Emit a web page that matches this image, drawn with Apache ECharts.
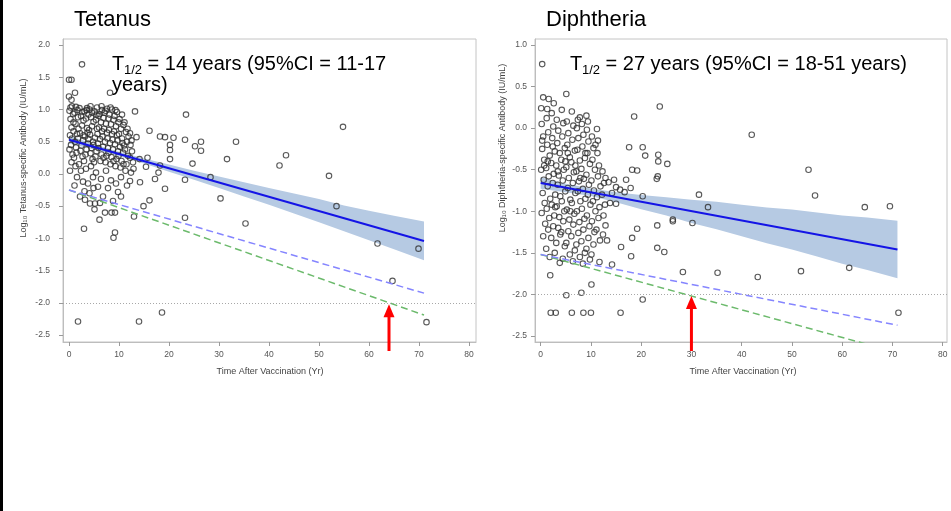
<!DOCTYPE html>
<html>
<head>
<meta charset="utf-8">
<script src="https://cdn.jsdelivr.net/npm/echarts@6/dist/echarts.min.js"></script>
<style>html,body{margin:0;padding:0;background:#fff}#c{width:951px;height:511px}</style>
</head>
<body>
<div id="c"></div>
<script>
// ---------- DATA ----------
const xTicks = [0, 10, 20, 30, 40, 50, 60, 70, 80];
const tetYTicks = [-2.5, -2.0, -1.5, -1.0, -0.5, 0.0, 0.5, 1.0, 1.5, 2.0];
const dipYTicks = [-2.5, -2.0, -1.5, -1.0, -0.5, 0.0, 0.5, 1.0];

const tetanusPoints = [
 [2.6,1.70],[0.0,1.46],[0.5,1.46],[1.2,1.26],[0.0,1.20],[0.5,1.15],[8.2,1.26],[13.2,0.97],[23.4,0.92],
 [16.1,0.67],[12.2,0.63],[13.5,0.57],[18.2,0.58],[19.2,0.57],[20.9,0.56],[23.2,0.53],[20.2,0.45],[20.2,0.37],
 [20.2,0.23],[15.7,0.25],[14.1,0.23],[18.2,0.13],[15.4,0.11],[17.9,0.02],[17.2,-0.08],[19.2,-0.23],[23.2,-0.09],
 [14.2,-0.13],[12.2,-0.11],[16.1,-0.41],[14.9,-0.50],[13.0,-0.66],[10.4,-0.35],[9.2,-0.60],[7.2,-0.60],[8.5,-0.60],
 [6.1,-0.71],[4.2,-0.46],[5.2,-0.46],[4.9,-0.22],[3.1,-0.27],[2.2,-0.35],[3.0,-0.85],[9.2,-0.91],[8.9,-0.99],
 [23.2,-0.68],[12.4,0.02],
 [54.8,0.73],[25.2,0.43],[26.4,0.50],[26.4,0.36],[33.4,0.50],[24.7,0.16],[31.6,0.23],[43.4,0.29],[42.1,0.13],
 [52.0,-0.03],[28.3,-0.05],[30.3,-0.38],[53.5,-0.50],[35.3,-0.77],[61.7,-1.08],[69.9,-1.16],[64.7,-1.66],
 [71.5,-2.30],[1.8,-2.29],[14.0,-2.29],[18.6,-2.15],
 [0.1,0.98],[0.3,0.85],[0.5,0.72],[0.2,0.60],[0.6,0.55],[0.4,0.45],[0.8,0.93],[0.9,0.66],[0.1,0.38],[0.7,0.30],[0.3,1.03],[0.9,0.80],[0.5,0.18],[0.2,0.05],
 [1.1,0.95],[1.3,0.78],[1.6,0.62],[1.2,0.50],[1.8,0.88],[1.4,0.41],[1.9,0.70],[1.5,0.33],[1.7,0.99],[1.0,0.25],[1.3,0.12],[1.8,0.55],[1.6,-0.05],[1.1,-0.18],
 [2.1,1.02],[2.4,0.90],[2.6,0.75],[2.2,0.63],[2.8,0.52],[2.5,0.44],[2.9,0.83],[2.3,0.36],[2.7,0.27],[2.0,0.15],[2.6,0.96],[2.9,0.60],[2.4,0.05],[2.8,-0.12],
 [3.1,0.97],[3.4,0.86],[3.6,0.71],[3.2,0.58],[3.8,0.47],[3.5,0.38],[3.9,0.92],[3.3,0.30],[3.7,0.64],[3.0,0.20],[3.6,1.02],[3.9,0.54],[3.4,0.08],[3.8,-0.15],[3.2,-0.40],
 [4.1,1.00],[4.4,0.88],[4.6,0.74],[4.2,0.61],[4.8,0.50],[4.5,0.40],[4.9,0.81],[4.3,0.32],[4.7,0.23],[4.0,0.68],[4.6,0.95],[4.9,0.45],[4.4,0.12],[4.8,-0.05],[4.1,-0.30],
 [5.1,0.97],[5.4,0.84],[5.6,0.70],[5.2,0.56],[5.8,0.47],[5.5,0.35],[5.9,0.90],[5.3,0.27],[5.7,0.62],[5.0,0.18],[5.6,1.03],[5.9,0.40],[5.4,0.02],[5.8,-0.20],[5.1,-0.55],
 [6.1,0.93],[6.4,0.80],[6.6,0.66],[6.2,0.54],[6.8,0.42],[6.5,0.30],[6.9,0.87],[6.3,0.20],[6.7,0.58],[6.0,0.72],[6.6,0.99],[6.9,0.25],[6.4,-0.08],[6.8,-0.35],[6.2,-0.45],
 [7.1,0.95],[7.4,0.78],[7.6,0.64],[7.2,0.50],[7.8,0.40],[7.5,0.28],[7.9,0.86],[7.3,0.18],[7.7,0.55],[7.0,0.70],[7.6,1.01],[7.9,0.33],[7.4,0.05],[7.8,-0.22],
 [8.1,0.92],[8.4,0.77],[8.6,0.62],[8.2,0.48],[8.8,0.38],[8.5,0.26],[8.9,0.84],[8.3,0.15],[8.7,0.53],[8.0,0.68],[8.6,1.00],[8.9,0.20],[8.4,-0.10],[8.8,-0.42],
 [9.1,0.90],[9.4,0.74],[9.6,0.60],[9.2,0.46],[9.8,0.35],[9.5,0.23],[9.9,0.80],[9.3,0.12],[9.7,0.52],[9.0,0.66],[9.6,0.96],[9.9,0.28],[9.4,-0.15],[9.8,-0.28],
 [10.1,0.85],[10.4,0.70],[10.6,0.55],[10.2,0.42],[10.8,0.33],[10.5,0.20],[10.9,0.76],[10.3,0.10],[10.7,0.48],[10.0,0.62],[10.6,0.92],[10.9,0.15],[10.4,-0.05],
 [11.1,0.80],[11.4,0.65],[11.6,0.50],[11.2,0.38],[11.8,0.28],[11.5,0.15],[11.9,0.58],[11.3,0.05],[11.7,0.70],[11.0,0.44],[11.6,-0.18],
 [12.3,0.45],[12.6,0.35],[12.2,0.25],[12.8,0.18],[12.5,0.52],[12.9,0.08],
 [0.6,1.05],[1.4,1.04],[3.5,0.99],[4.3,1.05],[5.5,0.92],[6.5,1.05],[7.3,0.98],[8.3,1.03],[9.3,0.99]
];

const diphtheriaPoints = [
 [0.3,0.77],[5.1,0.41],[0.5,0.37],[1.6,0.35],[2.6,0.30],[0.1,0.24],[1.3,0.23],[18.6,0.14],[9.1,0.15],[7.8,0.13],
 [11.2,-0.01],[17.6,-0.23],[18.2,-0.50],[19.2,-0.51],[17.0,-0.62],[17.9,-0.72],[15.0,-0.71],[15.8,-0.74],[16.7,-0.77],
 [15.0,-0.91],[12.9,-1.17],[19.2,-1.21],[18.2,-1.32],[16.0,-1.43],[18.0,-1.54],[14.2,-1.64],[11.7,-1.61],[10.1,-1.88],
 [8.1,-1.98],[5.1,-2.01],[1.9,-1.77],
 [2.0,-2.22],[3.0,-2.22],[6.2,-2.22],[8.5,-2.22],[10.0,-2.22],[15.9,-2.22],
 [23.7,0.26],[42.0,-0.08],[20.3,-0.23],[20.8,-0.33],[23.4,-0.32],[23.4,-0.40],[25.2,-0.43],[23.1,-0.61],[23.3,-0.58],
 [53.3,-0.50],[20.3,-0.82],[31.5,-0.80],[33.3,-0.95],[54.6,-0.81],[64.5,-0.95],[69.5,-0.94],[26.3,-1.10],[26.3,-1.12],
 [30.2,-1.14],[23.2,-1.17],[23.2,-1.44],[24.6,-1.49],[28.3,-1.73],[35.2,-1.74],[43.2,-1.79],[51.8,-1.72],[61.4,-1.68],
 [71.2,-2.22],[20.3,-2.06],
 [0.2,0.05],[0.5,-0.10],[0.3,-0.25],[0.7,-0.38],[0.1,-0.50],[0.6,-0.62],[0.4,-0.78],[0.8,-0.90],[0.2,-1.02],[0.9,-1.15],[0.5,-1.30],[0.3,-0.15],[0.7,-0.45],
 [1.2,0.12],[1.5,-0.05],[1.3,-0.20],[1.8,-0.33],[1.1,-0.48],[1.6,-0.58],[1.4,-0.70],[1.9,-0.85],[1.2,-0.97],[1.7,-1.08],[1.5,-1.22],[1.1,-1.45],[1.8,-1.55],[1.4,-0.40],
 [2.2,0.18],[2.5,0.02],[2.3,-0.12],[2.8,-0.28],[2.1,-0.42],[2.6,-0.55],[2.4,-0.66],[2.9,-0.80],[2.2,-0.92],[2.7,-1.05],[2.5,-1.18],[2.1,-1.32],[2.8,-1.50],[2.4,-0.22],[2.9,-0.95],
 [3.2,0.10],[3.5,-0.03],[3.3,-0.18],[3.8,-0.30],[3.1,-0.45],[3.6,-0.57],[3.4,-0.68],[3.9,-0.82],[3.2,-0.94],[3.7,-1.07],[3.5,-1.20],[3.1,-1.38],[3.8,-1.62],[3.4,-0.52],[3.9,-1.28],
 [4.2,0.22],[4.5,0.06],[4.3,-0.10],[4.8,-0.24],[4.1,-0.38],[4.6,-0.50],[4.4,-0.63],[4.9,-0.76],[4.2,-0.88],[4.7,-1.00],[4.5,-1.12],[4.1,-1.25],[4.8,-1.42],[4.4,-1.57],[4.9,-0.40],
 [5.2,0.08],[5.5,-0.06],[5.3,-0.20],[5.8,-0.35],[5.1,-0.47],[5.6,-0.60],[5.4,-0.72],[5.9,-0.86],[5.2,-0.98],[5.7,-1.10],[5.5,-1.24],[5.1,-1.38],[5.8,-1.52],[5.4,-0.30],[5.9,-1.00],
 [6.2,0.20],[6.5,0.03],[6.3,-0.14],[6.8,-0.27],[6.1,-0.41],[6.6,-0.53],[6.4,-0.66],[6.9,-0.78],[6.2,-0.90],[6.7,-1.03],[6.5,-1.16],[6.1,-1.30],[6.8,-1.47],[6.4,-1.60],[6.9,-0.45],
 [7.2,0.00],[7.5,-0.12],[7.3,-0.26],[7.8,-0.39],[7.1,-0.52],[7.6,-0.64],[7.4,-0.76],[7.9,-0.88],[7.2,-1.00],[7.7,-1.13],[7.5,-1.26],[7.1,-1.40],[7.8,-1.55],[7.4,0.10],[7.9,-0.60],
 [8.2,0.05],[8.5,-0.08],[8.3,-0.22],[8.8,-0.36],[8.1,-0.49],[8.6,-0.61],[8.4,-0.73],[8.9,-0.85],[8.2,-0.97],[8.7,-1.09],[8.5,-1.22],[8.1,-1.36],[8.8,-1.50],[8.4,-1.63],[8.9,-0.30],
 [9.2,-0.02],[9.5,-0.16],[9.3,-0.30],[9.8,-0.43],[9.1,-0.56],[9.6,-0.68],[9.4,-0.80],[9.9,-0.92],[9.2,-1.05],[9.7,-1.18],[9.5,-1.32],[9.1,-1.45],[9.8,-1.58],[9.4,0.08],
 [10.2,-0.10],[10.5,-0.24],[10.3,-0.38],[10.8,-0.50],[10.1,-0.63],[10.6,-0.75],[10.4,-0.88],[10.9,-1.00],[10.2,-1.12],[10.7,-1.25],[10.5,-1.40],[10.1,-1.52],[10.9,-0.20],
 [11.3,-0.30],[11.6,-0.45],[11.4,-0.58],[11.9,-0.70],[11.2,-0.83],[11.7,-0.95],[11.5,-1.08],[11.1,-1.22],[11.8,-1.35],[11.4,-0.15],
 [12.3,-0.52],[12.6,-0.66],[12.2,-0.80],[12.8,-0.92],[12.5,-1.05],[12.9,-0.60],[12.4,-1.28],
 [13.5,-0.65],[14.2,-0.78],[13.8,-0.90],[14.6,-0.62],[13.2,-1.35]
];

// regression fits and confidence bands
const bandX      = [0, 5, 10, 15, 20, 25, 30, 35, 40, 45, 50, 55, 60, 65, 71];
const tetUpper   = [0.59, 0.46, 0.345, 0.24, 0.145, 0.05, -0.04, -0.13, -0.22, -0.305, -0.39, -0.49, -0.57, -0.65, -0.74];
const tetLower   = [0.47, 0.38, 0.275, 0.16, 0.035, -0.09, -0.22, -0.35, -0.48, -0.615, -0.75, -0.89, -1.03, -1.17, -1.34];
const dipUpper   = [-0.59, -0.67, -0.725, -0.77, -0.805, -0.83, -0.86, -0.885, -0.92, -0.955, -0.98, -1.015, -1.05, -1.075, -1.115];
const dipLower   = [-0.73, -0.77, -0.815, -0.89, -0.975, -1.05, -1.14, -1.215, -1.30, -1.385, -1.46, -1.545, -1.63, -1.705, -1.805];
const tetFit     = [[0, 0.53], [71, -1.04]];
const tetBlueDash  = [[0, -0.25], [71, -1.85]];
const tetGreenDash = [[0, -0.25], [71, -2.19]];
const dipFit     = [[0, -0.66], [71, -1.46]];
const dipBlueDash  = [[0, -1.52], [71, -2.37]];
const dipGreenDash = [[0, -1.52], [71, -2.70]];
const threshold = -2.0;
const tetArrowX = 64;
const dipArrowX = 30;

// ---------- CHART ----------
const FONT = '"Liberation Sans", Arial, sans-serif';
const chart = echarts.init(document.getElementById('c'), null, {renderer: 'canvas'});

function xAxisCfg(gi, min, max) {
  return {
    type: 'value', gridIndex: gi, min: min, max: max,
    axisLine: {show: true, onZero: false, lineStyle: {color: '#bdbdbd', width: 1}},
    axisTick: {show: true, customValues: xTicks, length: 4, lineStyle: {color: '#9a9a9a'}},
    axisLabel: {customValues: xTicks, margin: 8, fontSize: 8.5, color: '#555', fontFamily: FONT},
    splitLine: {show: false}
  };
}
function yAxisCfg(gi, min, max, ticks, margin) {
  return {
    type: 'value', gridIndex: gi, min: min, max: max,
    axisLine: {show: true, onZero: false, lineStyle: {color: '#bdbdbd', width: 1}},
    axisTick: {show: true, customValues: ticks, length: 4, lineStyle: {color: '#9a9a9a'}},
    axisLabel: {customValues: ticks, margin: margin, fontSize: 8.5, color: '#555', fontFamily: FONT,
      formatter: v => v.toFixed(1)},
    splitLine: {show: false}
  };
}
function bandSeries(ai, xs, up, lo) {
  return {
    type: 'custom', xAxisIndex: ai, yAxisIndex: ai, silent: true, z: 1, clip: true,
    data: [[xs[0], up[0]]],
    renderItem: function (params, api) {
      const pts = [];
      for (let i = 0; i < xs.length; i++) pts.push(api.coord([xs[i], up[i]]));
      for (let i = xs.length - 1; i >= 0; i--) pts.push(api.coord([xs[i], lo[i]]));
      return {type: 'polygon', shape: {points: pts}, style: {fill: '#b6cae3'}};
    }
  };
}
function lineSeries(ai, data, color, width, type, z) {
  return {
    type: 'line', xAxisIndex: ai, yAxisIndex: ai, data: data, symbol: 'none', silent: true, z: z,
    lineStyle: {color: color, width: width, type: type}, clip: true, animation: false
  };
}
function scatterSeries(ai, data) {
  return {
    type: 'scatter', xAxisIndex: ai, yAxisIndex: ai, data: data, symbol: 'circle', symbolSize: 5.5,
    silent: true, z: 3,
    itemStyle: {color: 'rgba(0,0,0,0)', borderColor: '#2e2e2e', borderWidth: 1.1}
  };
}
function thresholdSeries(ai) {
  return {
    type: 'line', xAxisIndex: ai, yAxisIndex: ai, data: [], silent: true, z: 2,
    markLine: {silent: true, symbol: 'none', label: {show: false}, animation: false,
      lineStyle: {color: '#a8a8a8', width: 1, type: [1, 2]},
      data: [{yAxis: threshold}]}
  };
}

const option = {
  backgroundColor: '#fff',
  animation: false,
  grid: [
    {left: 63, top: 39, width: 413, height: 303, show: true, borderColor: '#c4c4c4', borderWidth: 1, backgroundColor: '#fff'},
    {left: 535, top: 39, width: 412, height: 303, show: true, borderColor: '#c4c4c4', borderWidth: 1, backgroundColor: '#fff'}
  ],
  xAxis: [xAxisCfg(0, -1.2, 81.4), xAxisCfg(1, -1.13, 80.86)],
  yAxis: [yAxisCfg(0, -2.608, 2.093, tetYTicks, 13), yAxisCfg(1, -2.572, 1.072, dipYTicks, 8)],
  series: [
    bandSeries(0, bandX, tetUpper, tetLower),
    thresholdSeries(0),
    scatterSeries(0, tetanusPoints),
    lineSeries(0, tetGreenDash, '#6cba6c', 1.5, [7, 4], 4),
    lineSeries(0, tetBlueDash, '#8585ff', 1.5, [7, 4], 4),
    lineSeries(0, tetFit, '#1414e6', 2, 'solid', 5),
    bandSeries(1, bandX, dipUpper, dipLower),
    thresholdSeries(1),
    scatterSeries(1, diphtheriaPoints),
    lineSeries(1, dipGreenDash, '#6cba6c', 1.5, [7, 4], 4),
    lineSeries(1, dipBlueDash, '#8585ff', 1.5, [7, 4], 4),
    lineSeries(1, dipFit, '#1414e6', 2, 'solid', 5)
  ]
};
chart.setOption(option);

// ---------- ANNOTATIONS ----------
function txt(x, y, s, size) {
  return {type: 'text', x: x, y: y, silent: true, z: 100,
    style: {text: s, fontSize: size, fontFamily: FONT, fill: '#000', verticalAlign: 'top'}};
}
function axisName(x, y, s, rot) {
  return {type: 'text', x: x, y: y, rotation: rot, silent: true, z: 100,
    style: {text: s, fontSize: 9, fontFamily: FONT, fill: '#444', align: 'center', verticalAlign: 'middle'}};
}
function arrow(ai, xv) {
  const tip = chart.convertToPixel({xAxisIndex: ai, yAxisIndex: ai}, [xv, threshold]);
  const tx = tip[0], ty = tip[1] + 1.5, bottom = 351;
  return [
    {type: 'line', silent: true, z: 101, shape: {x1: tx, y1: ty + 10, x2: tx, y2: bottom},
      style: {stroke: '#ff0000', lineWidth: 3}},
    {type: 'polygon', silent: true, z: 101, shape: {points: [[tx, ty], [tx - 5.5, ty + 13], [tx + 5.5, ty + 13]]},
      style: {fill: '#ff0000'}}
  ];
}
const graphics = [
  {type: 'rect', shape: {x: 0, y: 0, width: 3, height: 511}, style: {fill: '#000'}, silent: true, z: 100},
  txt(74, 9, 'Tetanus', 22),
  txt(546, 9, 'Diphtheria', 22),
  txt(112, 54, 'T', 20),
  txt(124, 64, '1/2', 13),
  txt(142, 54, ' = 14 years (95%CI = 11-17', 20),
  txt(112, 75, 'years)', 20),
  txt(570, 54, 'T', 20),
  txt(582, 64, '1/2', 13),
  txt(600, 54, ' = 27 years (95%CI = 18-51 years)', 20),
  axisName(270, 372, 'Time After Vaccination (Yr)', 0),
  axisName(743, 372, 'Time After Vaccination (Yr)', 0),
  axisName(24, 158, 'Log\u2081\u2080 Tetanus-specific Antibody (IU/mL)', Math.PI / 2),
  axisName(503, 148, 'Log\u2081\u2080 Diphtheria-specific Antibody (IU/mL)', Math.PI / 2)
].concat(arrow(0, tetArrowX), arrow(1, dipArrowX));
chart.setOption({graphic: graphics});
</script>
</body>
</html>
